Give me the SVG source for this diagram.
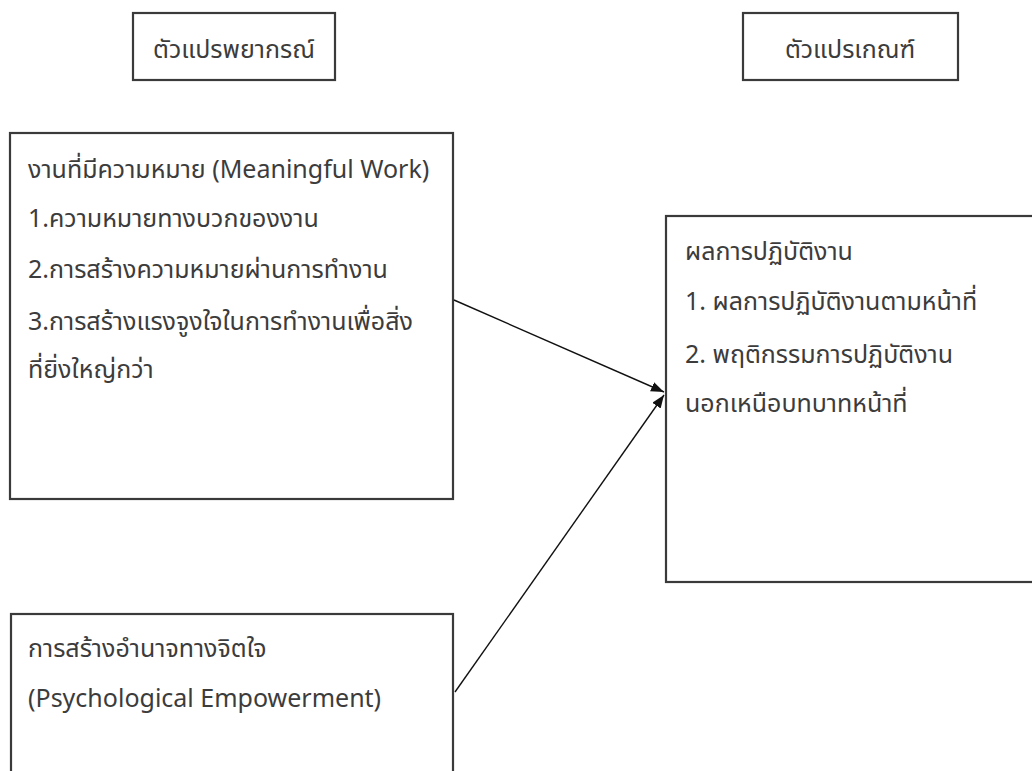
<svg xmlns="http://www.w3.org/2000/svg" width="1032" height="771" viewBox="0 0 1032 771">
<style>
.box{fill:#fff;stroke:#3a3a3a;stroke-width:2.2}
.t{font-family:"Noto Sans","Noto Sans Thai","Open Sans",sans-serif;font-size:25px;fill:#3c3c3c}
.c{stroke:#111;stroke-width:1.4;fill:none}
</style>
<defs>
<marker id="ah" viewBox="0 0 13 10" refX="13" refY="5" markerWidth="13" markerHeight="10" markerUnits="userSpaceOnUse" orient="auto">
<path d="M0,0 L13,5 L0,10 z" fill="#111"/>
</marker>
</defs>
<rect width="1032" height="771" fill="#fff"/>
<g id="label-predictor">
<rect class="box" x="133" y="13" width="202" height="67"/>
<text class="t" x="234" y="58" text-anchor="middle">ตัวแปรพยากรณ์</text>
</g>
<g id="label-criterion">
<rect class="box" x="743" y="13" width="215" height="67"/>
<text class="t" x="850" y="58" text-anchor="middle">ตัวแปรเกณฑ์</text>
</g>
<g id="node-meaningful-work">
<rect class="box" x="10" y="133" width="443" height="366"/>
<text class="t" x="28" y="178">งานที่มีความหมาย (Meaningful Work)</text>
<text class="t" x="28" y="227">1.ความหมายทางบวกของงาน</text>
<text class="t" x="28" y="278">2.การสร้างความหมายผ่านการทำงาน</text>
<text class="t" x="28" y="330">3.การสร้างแรงจูงใจในการทำงานเพื่อสิ่ง</text>
<text class="t" x="28" y="378">ที่ยิ่งใหญ่กว่า</text>
</g>
<g id="node-empowerment">
<rect class="box" x="11" y="614" width="442" height="200"/>
<text class="t" x="28" y="657">การสร้างอำนาจทางจิตใจ</text>
<text class="t" x="28" y="707">(Psychological Empowerment)</text>
</g>
<g id="node-performance">
<rect class="box" x="666" y="216" width="400" height="366"/>
<text class="t" x="685" y="260">ผลการปฏิบัติงาน</text>
<text class="t" x="685" y="310">1. ผลการปฏิบัติงานตามหน้าที่</text>
<text class="t" x="685" y="363">2. พฤติกรรมการปฏิบัติงาน</text>
<text class="t" x="685" y="412">นอกเหนือบทบาทหน้าที่</text>
</g>
<g id="connectors">
<line class="c" x1="454" y1="300" x2="664" y2="392" marker-end="url(#ah)"/>
<line class="c" x1="455" y1="692" x2="664" y2="395" marker-end="url(#ah)"/>
</g>
</svg>
